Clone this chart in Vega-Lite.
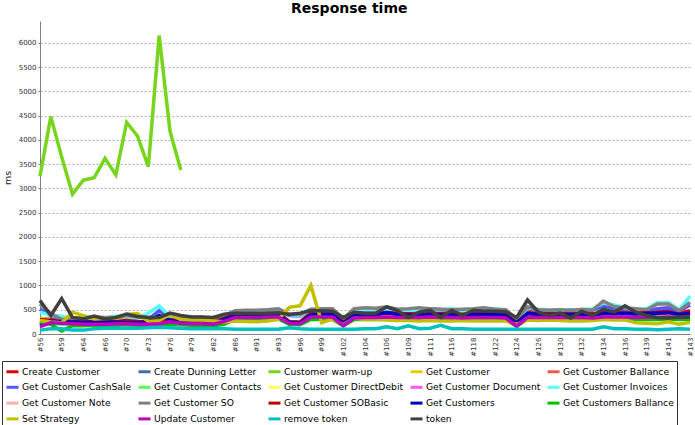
{
"$schema": "https://vega.github.io/schema/vega-lite/v6.json",
"width": 650, "height": 313,
"autosize": {"type": "none"},
"padding": {"left": 40, "top": 21, "right": 5, "bottom": 91},
"title": {"text": "Response time", "font": "DejaVu Sans", "fontSize": 14, "fontWeight": "bold", "color": "#000", "anchor": "middle", "frame": "bounds", "offset": 5},
"encoding": {
  "x": {"field": "x", "type": "ordinal", "scale": {"type": "point", "padding": 0},
        "axis": {"title": null, "values": [56,59,64,66,70,73,76,79,82,86,91,93,96,99,102,104,106,109,111,116,118,122,124,126,130,132,134,136,139,141,143],
                 "labelExpr": "'#' + datum.value", "labelAngle": 270, "labelFont": "DejaVu Sans", "labelFontSize": 7, "labelColor": "#333",
                 "ticks": false, "labelPadding": 3, "domainColor": "#808080", "grid": false, "labelOverlap": false}},
  "y": {"field": "v", "type": "quantitative", "scale": {"domain": [0, 6450], "nice": false},
        "axis": {"title": "ms", "format": "d", "values": [0,500,1000,1500,2000,2500,3000,3500,4000,4500,5000,5500,6000],
                 "labelFont": "DejaVu Sans", "labelFontSize": 7, "labelColor": "#333", "tickSize": 2, "tickColor": "#808080",
                 "domainColor": "#808080", "grid": true, "gridDash": [2, 2], "gridColor": "#9a9a9a", "gridWidth": 0.8,
                 "titleFont": "DejaVu Sans", "titleFontSize": 9.5, "titleFontWeight": "normal", "titleColor": "#222", "titlePadding": 6, "labelPadding": 2}}
},
"layer": [
{"data": {"values": [{"x":56,"v":320},{"x":57,"v":300},{"x":59,"v":300},{"x":62,"v":280},{"x":64,"v":270},{"x":65,"v":270},{"x":66,"v":270},{"x":68,"v":280},{"x":70,"v":290},{"x":72,"v":270},{"x":73,"v":270},{"x":75,"v":280},{"x":76,"v":320},{"x":78,"v":290},{"x":79,"v":280},{"x":80,"v":280},{"x":82,"v":270},{"x":84,"v":330},{"x":86,"v":420},{"x":89,"v":430},{"x":91,"v":430},{"x":92,"v":440},{"x":93,"v":440},{"x":95,"v":260},{"x":96,"v":250},{"x":98,"v":430},{"x":99,"v":420},{"x":100,"v":430},{"x":102,"v":250},{"x":103,"v":420},{"x":104,"v":420},{"x":105,"v":420},{"x":106,"v":460},{"x":108,"v":430},{"x":109,"v":430},{"x":110,"v":420},{"x":111,"v":430},{"x":114,"v":430},{"x":116,"v":420},{"x":117,"v":420},{"x":118,"v":430},{"x":120,"v":430},{"x":122,"v":430},{"x":123,"v":420},{"x":124,"v":240},{"x":125,"v":440},{"x":126,"v":430},{"x":128,"v":430},{"x":130,"v":430},{"x":131,"v":430},{"x":132,"v":430},{"x":133,"v":420},{"x":134,"v":440},{"x":135,"v":450},{"x":136,"v":460},{"x":138,"v":450},{"x":139,"v":460},{"x":140,"v":470},{"x":141,"v":480},{"x":142,"v":430},{"x":143,"v":480}]},
 "mark": {"type": "line", "strokeWidth": 3.5},
 "encoding": {"color": {"datum": "Create Customer", "type": "nominal",
   "scale": {"domain": ["Create Customer","Create Dunning Letter","Customer warm-up","Get Customer","Get Customer Ballance","Get Customer CashSale","Get Customer Contacts","Get Customer DirectDebit","Get Customer Document","Get Customer Invoices","Get Customer Note","Get Customer SO","Get Customer SOBasic","Get Customers","Get Customers Ballance","Set Strategy","Update Customer","remove token","token"],
             "range": ["#e00000","#3c6eb4","#77d51b","#f0c800","#ff5555","#5555ff","#55ff55","#ffff55","#ff55ff","#55ffff","#ffafaf","#808080","#c00000","#0000c0","#00c000","#c0c000","#c000c0","#00c0c0","#404040"]},
   "legend": {"title": null, "orient": "none", "direction": "horizontal", "legendX": -38, "legendY": 340, "columns": 5, "gridAlign": "each", "strokeColor": "#333", "padding": 3,
              "symbolType": "stroke", "symbolSize": 144, "symbolStrokeWidth": 3, "labelFont": "DejaVu Sans", "labelFontSize": 9.2,
              "labelColor": "#000", "rowPadding": 1.8, "columnPadding": 0, "labelOffset": 2, "labelLimit": 200}}}},
{"data": {"values": [{"x":56,"v":240},{"x":57,"v":250},{"x":59,"v":240},{"x":62,"v":230},{"x":64,"v":230},{"x":65,"v":230},{"x":66,"v":230},{"x":68,"v":240},{"x":70,"v":240},{"x":72,"v":230},{"x":73,"v":230},{"x":75,"v":240},{"x":76,"v":270},{"x":78,"v":240},{"x":79,"v":230},{"x":80,"v":230},{"x":82,"v":230},{"x":84,"v":280},{"x":86,"v":370},{"x":89,"v":370},{"x":91,"v":370},{"x":92,"v":380},{"x":93,"v":380},{"x":95,"v":230},{"x":96,"v":220},{"x":98,"v":370},{"x":99,"v":370},{"x":100,"v":370},{"x":102,"v":200},{"x":103,"v":360},{"x":104,"v":370},{"x":105,"v":370},{"x":106,"v":380},{"x":108,"v":370},{"x":109,"v":370},{"x":110,"v":370},{"x":111,"v":380},{"x":114,"v":370},{"x":116,"v":370},{"x":117,"v":370},{"x":118,"v":370},{"x":120,"v":370},{"x":122,"v":370},{"x":123,"v":360},{"x":124,"v":190},{"x":125,"v":380},{"x":126,"v":370},{"x":128,"v":370},{"x":130,"v":370},{"x":131,"v":370},{"x":132,"v":370},{"x":133,"v":360},{"x":134,"v":380},{"x":135,"v":380},{"x":136,"v":380},{"x":138,"v":370},{"x":139,"v":380},{"x":140,"v":380},{"x":141,"v":380},{"x":142,"v":370},{"x":143,"v":380}]},
 "mark": {"type": "line", "strokeWidth": 3.5}, "encoding": {"color": {"datum": "Create Dunning Letter", "type": "nominal"}}},
{"data": {"values": [{"x":56,"v":3250},{"x":57,"v":4480},{"x":59,"v":3650},{"x":62,"v":2880},{"x":64,"v":3170},{"x":65,"v":3220},{"x":66,"v":3620},{"x":68,"v":3280},{"x":70,"v":4360},{"x":72,"v":4080},{"x":73,"v":3450},{"x":75,"v":6150},{"x":76,"v":4180},{"x":78,"v":3380}]},
 "mark": {"type": "line", "strokeWidth": 3.5}, "encoding": {"color": {"datum": "Customer warm-up", "type": "nominal"}}},
{"data": {"values": [{"x":56,"v":330},{"x":57,"v":280},{"x":59,"v":280},{"x":62,"v":300},{"x":64,"v":290},{"x":65,"v":290},{"x":66,"v":290},{"x":68,"v":300},{"x":70,"v":300},{"x":72,"v":290},{"x":73,"v":290},{"x":75,"v":300},{"x":76,"v":320},{"x":78,"v":300},{"x":79,"v":290},{"x":80,"v":290},{"x":82,"v":280},{"x":84,"v":310},{"x":86,"v":360},{"x":89,"v":360},{"x":91,"v":370},{"x":92,"v":370},{"x":93,"v":370},{"x":95,"v":260},{"x":96,"v":250},{"x":98,"v":360},{"x":99,"v":360},{"x":100,"v":360},{"x":102,"v":220},{"x":103,"v":360},{"x":104,"v":360},{"x":105,"v":360},{"x":106,"v":380},{"x":108,"v":360},{"x":109,"v":360},{"x":110,"v":360},{"x":111,"v":370},{"x":114,"v":360},{"x":116,"v":370},{"x":117,"v":440},{"x":118,"v":370},{"x":120,"v":370},{"x":122,"v":370},{"x":123,"v":360},{"x":124,"v":210},{"x":125,"v":370},{"x":126,"v":360},{"x":128,"v":360},{"x":130,"v":360},{"x":131,"v":360},{"x":132,"v":360},{"x":133,"v":360},{"x":134,"v":380},{"x":135,"v":370},{"x":136,"v":370},{"x":138,"v":360},{"x":139,"v":360},{"x":140,"v":370},{"x":141,"v":380},{"x":142,"v":360},{"x":143,"v":370}]},
 "mark": {"type": "line", "strokeWidth": 3.5}, "encoding": {"color": {"datum": "Get Customer", "type": "nominal"}}},
{"data": {"values": [{"x":56,"v":280},{"x":57,"v":270},{"x":59,"v":260},{"x":62,"v":250},{"x":64,"v":250},{"x":65,"v":250},{"x":66,"v":260},{"x":68,"v":260},{"x":70,"v":270},{"x":72,"v":260},{"x":73,"v":260},{"x":75,"v":270},{"x":76,"v":290},{"x":78,"v":270},{"x":79,"v":260},{"x":80,"v":260},{"x":82,"v":250},{"x":84,"v":300},{"x":86,"v":390},{"x":89,"v":390},{"x":91,"v":400},{"x":92,"v":400},{"x":93,"v":410},{"x":95,"v":240},{"x":96,"v":230},{"x":98,"v":400},{"x":99,"v":390},{"x":100,"v":400},{"x":102,"v":230},{"x":103,"v":390},{"x":104,"v":390},{"x":105,"v":390},{"x":106,"v":420},{"x":108,"v":400},{"x":109,"v":390},{"x":110,"v":390},{"x":111,"v":400},{"x":114,"v":400},{"x":116,"v":390},{"x":117,"v":390},{"x":118,"v":400},{"x":120,"v":400},{"x":122,"v":400},{"x":123,"v":390},{"x":124,"v":220},{"x":125,"v":410},{"x":126,"v":400},{"x":128,"v":400},{"x":130,"v":400},{"x":131,"v":400},{"x":132,"v":400},{"x":133,"v":390},{"x":134,"v":410},{"x":135,"v":410},{"x":136,"v":420},{"x":138,"v":410},{"x":139,"v":420},{"x":140,"v":430},{"x":141,"v":430},{"x":142,"v":400},{"x":143,"v":430}]},
 "mark": {"type": "line", "strokeWidth": 3.5}, "encoding": {"color": {"datum": "Get Customer Ballance", "type": "nominal"}}},
{"data": {"values": [{"x":56,"v":510},{"x":57,"v":380},{"x":59,"v":300},{"x":62,"v":280},{"x":64,"v":270},{"x":65,"v":290},{"x":66,"v":280},{"x":68,"v":300},{"x":70,"v":290},{"x":72,"v":280},{"x":73,"v":300},{"x":75,"v":480},{"x":76,"v":340},{"x":78,"v":300},{"x":79,"v":290},{"x":80,"v":300},{"x":82,"v":290},{"x":84,"v":350},{"x":86,"v":470},{"x":89,"v":480},{"x":91,"v":480},{"x":92,"v":490},{"x":93,"v":490},{"x":95,"v":380},{"x":96,"v":370},{"x":98,"v":480},{"x":99,"v":480},{"x":100,"v":490},{"x":102,"v":300},{"x":103,"v":490},{"x":104,"v":500},{"x":105,"v":500},{"x":106,"v":510},{"x":108,"v":500},{"x":109,"v":500},{"x":110,"v":490},{"x":111,"v":520},{"x":114,"v":500},{"x":116,"v":490},{"x":117,"v":500},{"x":118,"v":490},{"x":120,"v":500},{"x":122,"v":500},{"x":123,"v":480},{"x":124,"v":280},{"x":125,"v":520},{"x":126,"v":490},{"x":128,"v":500},{"x":130,"v":490},{"x":131,"v":500},{"x":132,"v":500},{"x":133,"v":490},{"x":134,"v":580},{"x":135,"v":520},{"x":136,"v":510},{"x":138,"v":480},{"x":139,"v":480},{"x":140,"v":520},{"x":141,"v":540},{"x":142,"v":470},{"x":143,"v":600}]},
 "mark": {"type": "line", "strokeWidth": 3.5}, "encoding": {"color": {"datum": "Get Customer CashSale", "type": "nominal"}}},
{"data": {"values": [{"x":56,"v":230},{"x":57,"v":220},{"x":59,"v":200},{"x":62,"v":200},{"x":64,"v":210},{"x":65,"v":210},{"x":66,"v":210},{"x":68,"v":220},{"x":70,"v":220},{"x":72,"v":210},{"x":73,"v":210},{"x":75,"v":220},{"x":76,"v":240},{"x":78,"v":220},{"x":79,"v":210},{"x":80,"v":210},{"x":82,"v":210},{"x":84,"v":250},{"x":86,"v":330},{"x":89,"v":330},{"x":91,"v":340},{"x":92,"v":340},{"x":93,"v":340},{"x":95,"v":220},{"x":96,"v":210},{"x":98,"v":330},{"x":99,"v":330},{"x":100,"v":330},{"x":102,"v":190},{"x":103,"v":330},{"x":104,"v":330},{"x":105,"v":330},{"x":106,"v":340},{"x":108,"v":330},{"x":109,"v":330},{"x":110,"v":330},{"x":111,"v":340},{"x":114,"v":330},{"x":116,"v":330},{"x":117,"v":330},{"x":118,"v":330},{"x":120,"v":330},{"x":122,"v":330},{"x":123,"v":320},{"x":124,"v":180},{"x":125,"v":340},{"x":126,"v":330},{"x":128,"v":330},{"x":130,"v":330},{"x":131,"v":330},{"x":132,"v":330},{"x":133,"v":330},{"x":134,"v":340},{"x":135,"v":340},{"x":136,"v":340},{"x":138,"v":330},{"x":139,"v":330},{"x":140,"v":330},{"x":141,"v":340},{"x":142,"v":330},{"x":143,"v":330}]},
 "mark": {"type": "line", "strokeWidth": 3.5}, "encoding": {"color": {"datum": "Get Customer Contacts", "type": "nominal"}}},
{"data": {"values": [{"x":56,"v":300},{"x":57,"v":270},{"x":59,"v":260},{"x":62,"v":270},{"x":64,"v":270},{"x":65,"v":270},{"x":66,"v":270},{"x":68,"v":280},{"x":70,"v":280},{"x":72,"v":270},{"x":73,"v":270},{"x":75,"v":280},{"x":76,"v":300},{"x":78,"v":280},{"x":79,"v":270},{"x":80,"v":270},{"x":82,"v":260},{"x":84,"v":300},{"x":86,"v":350},{"x":89,"v":350},{"x":91,"v":350},{"x":92,"v":360},{"x":93,"v":360},{"x":95,"v":240},{"x":96,"v":230},{"x":98,"v":350},{"x":99,"v":350},{"x":100,"v":350},{"x":102,"v":210},{"x":103,"v":350},{"x":104,"v":350},{"x":105,"v":350},{"x":106,"v":360},{"x":108,"v":350},{"x":109,"v":350},{"x":110,"v":350},{"x":111,"v":360},{"x":114,"v":350},{"x":116,"v":350},{"x":117,"v":350},{"x":118,"v":350},{"x":120,"v":350},{"x":122,"v":350},{"x":123,"v":340},{"x":124,"v":200},{"x":125,"v":360},{"x":126,"v":350},{"x":128,"v":350},{"x":130,"v":350},{"x":131,"v":350},{"x":132,"v":350},{"x":133,"v":350},{"x":134,"v":360},{"x":135,"v":360},{"x":136,"v":360},{"x":138,"v":350},{"x":139,"v":350},{"x":140,"v":350},{"x":141,"v":360},{"x":142,"v":350},{"x":143,"v":350}]},
 "mark": {"type": "line", "strokeWidth": 3.5}, "encoding": {"color": {"datum": "Get Customer DirectDebit", "type": "nominal"}}},
{"data": {"values": [{"x":56,"v":180},{"x":57,"v":240},{"x":59,"v":230},{"x":62,"v":220},{"x":64,"v":220},{"x":65,"v":220},{"x":66,"v":220},{"x":68,"v":230},{"x":70,"v":230},{"x":72,"v":220},{"x":73,"v":220},{"x":75,"v":230},{"x":76,"v":260},{"x":78,"v":230},{"x":79,"v":220},{"x":80,"v":220},{"x":82,"v":220},{"x":84,"v":270},{"x":86,"v":360},{"x":89,"v":360},{"x":91,"v":360},{"x":92,"v":370},{"x":93,"v":370},{"x":95,"v":220},{"x":96,"v":210},{"x":98,"v":370},{"x":99,"v":370},{"x":100,"v":370},{"x":102,"v":180},{"x":103,"v":350},{"x":104,"v":360},{"x":105,"v":360},{"x":106,"v":370},{"x":108,"v":360},{"x":109,"v":360},{"x":110,"v":360},{"x":111,"v":370},{"x":114,"v":360},{"x":116,"v":360},{"x":117,"v":350},{"x":118,"v":360},{"x":120,"v":360},{"x":122,"v":360},{"x":123,"v":350},{"x":124,"v":180},{"x":125,"v":360},{"x":126,"v":360},{"x":128,"v":360},{"x":130,"v":360},{"x":131,"v":360},{"x":132,"v":360},{"x":133,"v":350},{"x":134,"v":370},{"x":135,"v":370},{"x":136,"v":370},{"x":138,"v":360},{"x":139,"v":370},{"x":140,"v":360},{"x":141,"v":370},{"x":142,"v":360},{"x":143,"v":370}]},
 "mark": {"type": "line", "strokeWidth": 3.5}, "encoding": {"color": {"datum": "Get Customer Document", "type": "nominal"}}},
{"data": {"values": [{"x":56,"v":450},{"x":57,"v":380},{"x":59,"v":370},{"x":62,"v":300},{"x":64,"v":300},{"x":65,"v":320},{"x":66,"v":330},{"x":68,"v":370},{"x":70,"v":350},{"x":72,"v":330},{"x":73,"v":430},{"x":75,"v":580},{"x":76,"v":360},{"x":78,"v":330},{"x":79,"v":330},{"x":80,"v":320},{"x":82,"v":300},{"x":84,"v":360},{"x":86,"v":460},{"x":89,"v":470},{"x":91,"v":480},{"x":92,"v":480},{"x":93,"v":490},{"x":95,"v":400},{"x":96,"v":380},{"x":98,"v":500},{"x":99,"v":500},{"x":100,"v":500},{"x":102,"v":280},{"x":103,"v":500},{"x":104,"v":510},{"x":105,"v":500},{"x":106,"v":520},{"x":108,"v":500},{"x":109,"v":490},{"x":110,"v":500},{"x":111,"v":510},{"x":114,"v":500},{"x":116,"v":520},{"x":117,"v":490},{"x":118,"v":500},{"x":120,"v":500},{"x":122,"v":520},{"x":123,"v":490},{"x":124,"v":260},{"x":125,"v":540},{"x":126,"v":510},{"x":128,"v":500},{"x":130,"v":500},{"x":131,"v":490},{"x":132,"v":500},{"x":133,"v":520},{"x":134,"v":640},{"x":135,"v":600},{"x":136,"v":540},{"x":138,"v":500},{"x":139,"v":520},{"x":140,"v":650},{"x":141,"v":650},{"x":142,"v":500},{"x":143,"v":780}]},
 "mark": {"type": "line", "strokeWidth": 3.5}, "encoding": {"color": {"datum": "Get Customer Invoices", "type": "nominal"}}},
{"data": {"values": [{"x":56,"v":260},{"x":57,"v":250},{"x":59,"v":250},{"x":62,"v":240},{"x":64,"v":240},{"x":65,"v":240},{"x":66,"v":240},{"x":68,"v":250},{"x":70,"v":250},{"x":72,"v":240},{"x":73,"v":240},{"x":75,"v":250},{"x":76,"v":280},{"x":78,"v":250},{"x":79,"v":240},{"x":80,"v":240},{"x":82,"v":240},{"x":84,"v":290},{"x":86,"v":380},{"x":89,"v":380},{"x":91,"v":380},{"x":92,"v":390},{"x":93,"v":390},{"x":95,"v":230},{"x":96,"v":220},{"x":98,"v":380},{"x":99,"v":380},{"x":100,"v":380},{"x":102,"v":210},{"x":103,"v":370},{"x":104,"v":380},{"x":105,"v":380},{"x":106,"v":390},{"x":108,"v":380},{"x":109,"v":380},{"x":110,"v":380},{"x":111,"v":390},{"x":114,"v":380},{"x":116,"v":380},{"x":117,"v":380},{"x":118,"v":380},{"x":120,"v":380},{"x":122,"v":380},{"x":123,"v":370},{"x":124,"v":200},{"x":125,"v":390},{"x":126,"v":380},{"x":128,"v":380},{"x":130,"v":380},{"x":131,"v":380},{"x":132,"v":380},{"x":133,"v":370},{"x":134,"v":390},{"x":135,"v":390},{"x":136,"v":390},{"x":138,"v":380},{"x":139,"v":390},{"x":140,"v":390},{"x":141,"v":390},{"x":142,"v":380},{"x":143,"v":390}]},
 "mark": {"type": "line", "strokeWidth": 3.5}, "encoding": {"color": {"datum": "Get Customer Note", "type": "nominal"}}},
{"data": {"values": [{"x":56,"v":620},{"x":57,"v":420},{"x":59,"v":300},{"x":62,"v":330},{"x":64,"v":330},{"x":65,"v":350},{"x":66,"v":340},{"x":68,"v":340},{"x":70,"v":380},{"x":72,"v":350},{"x":73,"v":340},{"x":75,"v":340},{"x":76,"v":400},{"x":78,"v":360},{"x":79,"v":340},{"x":80,"v":340},{"x":82,"v":330},{"x":84,"v":380},{"x":86,"v":480},{"x":89,"v":490},{"x":91,"v":490},{"x":92,"v":500},{"x":93,"v":520},{"x":95,"v":410},{"x":96,"v":400},{"x":98,"v":510},{"x":99,"v":520},{"x":100,"v":520},{"x":102,"v":320},{"x":103,"v":520},{"x":104,"v":540},{"x":105,"v":530},{"x":106,"v":560},{"x":108,"v":510},{"x":109,"v":520},{"x":110,"v":540},{"x":111,"v":520},{"x":114,"v":510},{"x":116,"v":500},{"x":117,"v":510},{"x":118,"v":520},{"x":120,"v":540},{"x":122,"v":510},{"x":123,"v":500},{"x":124,"v":290},{"x":125,"v":560},{"x":126,"v":500},{"x":128,"v":490},{"x":130,"v":500},{"x":131,"v":480},{"x":132,"v":510},{"x":133,"v":490},{"x":134,"v":680},{"x":135,"v":560},{"x":136,"v":540},{"x":138,"v":520},{"x":139,"v":500},{"x":140,"v":620},{"x":141,"v":620},{"x":142,"v":480},{"x":143,"v":650}]},
 "mark": {"type": "line", "strokeWidth": 3.5}, "encoding": {"color": {"datum": "Get Customer SO", "type": "nominal"}}},
{"data": {"values": [{"x":56,"v":300},{"x":57,"v":280},{"x":59,"v":260},{"x":62,"v":260},{"x":64,"v":250},{"x":65,"v":260},{"x":66,"v":250},{"x":68,"v":260},{"x":70,"v":280},{"x":72,"v":260},{"x":73,"v":250},{"x":75,"v":290},{"x":76,"v":300},{"x":78,"v":270},{"x":79,"v":270},{"x":80,"v":260},{"x":82,"v":260},{"x":84,"v":320},{"x":86,"v":400},{"x":89,"v":410},{"x":91,"v":410},{"x":92,"v":420},{"x":93,"v":420},{"x":95,"v":250},{"x":96,"v":240},{"x":98,"v":410},{"x":99,"v":400},{"x":100,"v":410},{"x":102,"v":240},{"x":103,"v":400},{"x":104,"v":400},{"x":105,"v":410},{"x":106,"v":430},{"x":108,"v":410},{"x":109,"v":410},{"x":110,"v":400},{"x":111,"v":410},{"x":114,"v":410},{"x":116,"v":400},{"x":117,"v":400},{"x":118,"v":410},{"x":120,"v":410},{"x":122,"v":410},{"x":123,"v":400},{"x":124,"v":230},{"x":125,"v":420},{"x":126,"v":410},{"x":128,"v":410},{"x":130,"v":410},{"x":131,"v":410},{"x":132,"v":410},{"x":133,"v":400},{"x":134,"v":420},{"x":135,"v":430},{"x":136,"v":430},{"x":138,"v":430},{"x":139,"v":440},{"x":140,"v":440},{"x":141,"v":450},{"x":142,"v":410},{"x":143,"v":440}]},
 "mark": {"type": "line", "strokeWidth": 3.5}, "encoding": {"color": {"datum": "Get Customer SOBasic", "type": "nominal"}}},
{"data": {"values": [{"x":56,"v":200},{"x":57,"v":260},{"x":59,"v":250},{"x":62,"v":240},{"x":64,"v":240},{"x":65,"v":240},{"x":66,"v":240},{"x":68,"v":240},{"x":70,"v":230},{"x":72,"v":230},{"x":73,"v":250},{"x":75,"v":380},{"x":76,"v":280},{"x":78,"v":250},{"x":79,"v":230},{"x":80,"v":240},{"x":82,"v":230},{"x":84,"v":300},{"x":86,"v":380},{"x":89,"v":390},{"x":91,"v":390},{"x":92,"v":400},{"x":93,"v":400},{"x":95,"v":240},{"x":96,"v":230},{"x":98,"v":390},{"x":99,"v":400},{"x":100,"v":400},{"x":102,"v":220},{"x":103,"v":390},{"x":104,"v":390},{"x":105,"v":390},{"x":106,"v":440},{"x":108,"v":400},{"x":109,"v":390},{"x":110,"v":390},{"x":111,"v":400},{"x":114,"v":400},{"x":116,"v":390},{"x":117,"v":400},{"x":118,"v":400},{"x":120,"v":400},{"x":122,"v":400},{"x":123,"v":380},{"x":124,"v":220},{"x":125,"v":420},{"x":126,"v":400},{"x":128,"v":400},{"x":130,"v":400},{"x":131,"v":400},{"x":132,"v":400},{"x":133,"v":390},{"x":134,"v":420},{"x":135,"v":420},{"x":136,"v":420},{"x":138,"v":410},{"x":139,"v":420},{"x":140,"v":430},{"x":141,"v":440},{"x":142,"v":400},{"x":143,"v":430}]},
 "mark": {"type": "line", "strokeWidth": 3.5}, "encoding": {"color": {"datum": "Get Customers", "type": "nominal"}}},
{"data": {"values": [{"x":56,"v":250},{"x":57,"v":200},{"x":59,"v":60},{"x":62,"v":170},{"x":64,"v":170},{"x":65,"v":180},{"x":66,"v":180},{"x":68,"v":180},{"x":70,"v":190},{"x":72,"v":180},{"x":73,"v":180},{"x":75,"v":190},{"x":76,"v":200},{"x":78,"v":190},{"x":79,"v":180},{"x":80,"v":180},{"x":82,"v":170},{"x":84,"v":200},{"x":86,"v":300},{"x":89,"v":300},{"x":91,"v":310},{"x":92,"v":310},{"x":93,"v":310},{"x":95,"v":200},{"x":96,"v":190},{"x":98,"v":300},{"x":99,"v":300},{"x":100,"v":300},{"x":102,"v":170},{"x":103,"v":300},{"x":104,"v":300},{"x":105,"v":300},{"x":106,"v":310},{"x":108,"v":300},{"x":109,"v":300},{"x":110,"v":300},{"x":111,"v":310},{"x":114,"v":300},{"x":116,"v":300},{"x":117,"v":300},{"x":118,"v":300},{"x":120,"v":300},{"x":122,"v":300},{"x":123,"v":290},{"x":124,"v":160},{"x":125,"v":310},{"x":126,"v":300},{"x":128,"v":300},{"x":130,"v":300},{"x":131,"v":300},{"x":132,"v":300},{"x":133,"v":300},{"x":134,"v":310},{"x":135,"v":310},{"x":136,"v":310},{"x":138,"v":300},{"x":139,"v":300},{"x":140,"v":300},{"x":141,"v":310},{"x":142,"v":300},{"x":143,"v":300}]},
 "mark": {"type": "line", "strokeWidth": 3.5}, "encoding": {"color": {"datum": "Get Customers Ballance", "type": "nominal"}}},
{"data": {"values": [{"x":56,"v":280},{"x":57,"v":250},{"x":59,"v":230},{"x":62,"v":450},{"x":64,"v":380},{"x":65,"v":310},{"x":66,"v":320},{"x":68,"v":330},{"x":70,"v":400},{"x":72,"v":420},{"x":73,"v":260},{"x":75,"v":280},{"x":76,"v":400},{"x":78,"v":300},{"x":79,"v":290},{"x":80,"v":290},{"x":82,"v":270},{"x":84,"v":250},{"x":86,"v":270},{"x":89,"v":260},{"x":91,"v":250},{"x":92,"v":270},{"x":93,"v":300},{"x":95,"v":550},{"x":96,"v":580},{"x":98,"v":1000},{"x":99,"v":230},{"x":100,"v":310},{"x":102,"v":190},{"x":103,"v":330},{"x":104,"v":300},{"x":105,"v":300},{"x":106,"v":290},{"x":108,"v":280},{"x":109,"v":280},{"x":110,"v":270},{"x":111,"v":280},{"x":114,"v":270},{"x":116,"v":270},{"x":117,"v":280},{"x":118,"v":270},{"x":120,"v":270},{"x":122,"v":270},{"x":123,"v":270},{"x":124,"v":200},{"x":125,"v":290},{"x":126,"v":280},{"x":128,"v":290},{"x":130,"v":280},{"x":131,"v":270},{"x":132,"v":270},{"x":133,"v":280},{"x":134,"v":300},{"x":135,"v":290},{"x":136,"v":290},{"x":138,"v":230},{"x":139,"v":220},{"x":140,"v":210},{"x":141,"v":250},{"x":142,"v":200},{"x":143,"v":240}]},
 "mark": {"type": "line", "strokeWidth": 3.5}, "encoding": {"color": {"datum": "Set Strategy", "type": "nominal"}}},
{"data": {"values": [{"x":56,"v":150},{"x":57,"v":230},{"x":59,"v":220},{"x":62,"v":210},{"x":64,"v":200},{"x":65,"v":200},{"x":66,"v":200},{"x":68,"v":210},{"x":70,"v":210},{"x":72,"v":200},{"x":73,"v":200},{"x":75,"v":210},{"x":76,"v":250},{"x":78,"v":220},{"x":79,"v":210},{"x":80,"v":210},{"x":82,"v":200},{"x":84,"v":260},{"x":86,"v":340},{"x":89,"v":340},{"x":91,"v":340},{"x":92,"v":350},{"x":93,"v":350},{"x":95,"v":220},{"x":96,"v":210},{"x":98,"v":350},{"x":99,"v":350},{"x":100,"v":350},{"x":102,"v":170},{"x":103,"v":330},{"x":104,"v":340},{"x":105,"v":340},{"x":106,"v":350},{"x":108,"v":340},{"x":109,"v":340},{"x":110,"v":340},{"x":111,"v":350},{"x":114,"v":340},{"x":116,"v":340},{"x":117,"v":330},{"x":118,"v":340},{"x":120,"v":340},{"x":122,"v":340},{"x":123,"v":330},{"x":124,"v":160},{"x":125,"v":340},{"x":126,"v":340},{"x":128,"v":340},{"x":130,"v":340},{"x":131,"v":340},{"x":132,"v":340},{"x":133,"v":330},{"x":134,"v":350},{"x":135,"v":350},{"x":136,"v":350},{"x":138,"v":340},{"x":139,"v":350},{"x":140,"v":340},{"x":141,"v":350},{"x":142,"v":340},{"x":143,"v":350}]},
 "mark": {"type": "line", "strokeWidth": 3.5}, "encoding": {"color": {"datum": "Update Customer", "type": "nominal"}}},
{"data": {"values": [{"x":56,"v":80},{"x":57,"v":110},{"x":59,"v":110},{"x":62,"v":80},{"x":64,"v":80},{"x":65,"v":110},{"x":66,"v":120},{"x":68,"v":120},{"x":70,"v":120},{"x":72,"v":120},{"x":73,"v":130},{"x":75,"v":140},{"x":76,"v":130},{"x":78,"v":120},{"x":79,"v":110},{"x":80,"v":110},{"x":82,"v":110},{"x":84,"v":110},{"x":86,"v":100},{"x":89,"v":100},{"x":91,"v":100},{"x":92,"v":100},{"x":93,"v":100},{"x":95,"v":130},{"x":96,"v":110},{"x":98,"v":100},{"x":99,"v":100},{"x":100,"v":100},{"x":102,"v":100},{"x":103,"v":100},{"x":104,"v":110},{"x":105,"v":110},{"x":106,"v":150},{"x":108,"v":110},{"x":109,"v":170},{"x":110,"v":110},{"x":111,"v":120},{"x":114,"v":180},{"x":116,"v":110},{"x":117,"v":110},{"x":118,"v":100},{"x":120,"v":100},{"x":122,"v":100},{"x":123,"v":100},{"x":124,"v":100},{"x":125,"v":100},{"x":126,"v":100},{"x":128,"v":100},{"x":130,"v":100},{"x":131,"v":100},{"x":132,"v":100},{"x":133,"v":100},{"x":134,"v":150},{"x":135,"v":110},{"x":136,"v":110},{"x":138,"v":100},{"x":139,"v":100},{"x":140,"v":90},{"x":141,"v":100},{"x":142,"v":110},{"x":143,"v":100}]},
 "mark": {"type": "line", "strokeWidth": 3.5}, "encoding": {"color": {"datum": "remove token", "type": "nominal"}}},
{"data": {"values": [{"x":56,"v":690},{"x":57,"v":380},{"x":59,"v":730},{"x":62,"v":340},{"x":64,"v":310},{"x":65,"v":370},{"x":66,"v":310},{"x":68,"v":340},{"x":70,"v":410},{"x":72,"v":360},{"x":73,"v":340},{"x":75,"v":340},{"x":76,"v":430},{"x":78,"v":380},{"x":79,"v":350},{"x":80,"v":350},{"x":82,"v":340},{"x":84,"v":410},{"x":86,"v":430},{"x":89,"v":420},{"x":91,"v":420},{"x":92,"v":430},{"x":93,"v":440},{"x":95,"v":400},{"x":96,"v":430},{"x":98,"v":480},{"x":99,"v":480},{"x":100,"v":470},{"x":102,"v":340},{"x":103,"v":450},{"x":104,"v":430},{"x":105,"v":430},{"x":106,"v":560},{"x":108,"v":480},{"x":109,"v":340},{"x":110,"v":450},{"x":111,"v":490},{"x":114,"v":340},{"x":116,"v":490},{"x":117,"v":380},{"x":118,"v":490},{"x":120,"v":470},{"x":122,"v":470},{"x":123,"v":460},{"x":124,"v":340},{"x":125,"v":700},{"x":126,"v":450},{"x":128,"v":380},{"x":130,"v":430},{"x":131,"v":330},{"x":132,"v":470},{"x":133,"v":380},{"x":134,"v":510},{"x":135,"v":450},{"x":136,"v":580},{"x":138,"v":450},{"x":139,"v":380},{"x":140,"v":340},{"x":141,"v":330},{"x":142,"v":350},{"x":143,"v":350}]},
 "mark": {"type": "line", "strokeWidth": 3.5}, "encoding": {"color": {"datum": "token", "type": "nominal"}}}
],
"config": {"view": {"stroke": null}, "background": "#ffffff", "font": "DejaVu Sans"}
}
